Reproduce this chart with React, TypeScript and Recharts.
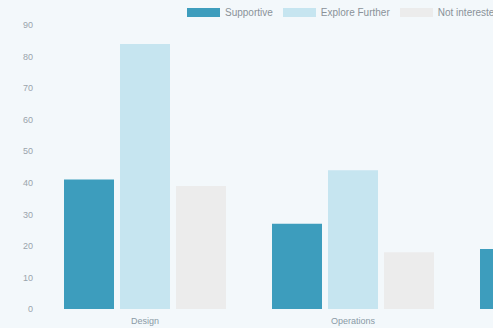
import React from 'react';
import { BarChart, Bar, XAxis, YAxis } from 'recharts';

const categories = ['Design', 'Operations', 'Marketing'];
const supportive = [41, 27, 19];
const exploreFurther = [84, 44, 31];
const notInterested = [39, 18, 12];
const yTicks = [0, 10, 20, 30, 40, 50, 60, 70, 80, 90];

const data = categories.map((name, i) => ({
    name,
    supportive: supportive[i],
    explore: exploreFurther[i],
    notInterested: notInterested[i],
}));

const legendItems = [
    { label: 'Supportive', color: '#3d9dbd' },
    { label: 'Explore Further', color: '#c6e5f0' },
    { label: 'Not interested', color: '#ececec' },
];

const font = 'Arial, "Liberation Sans", sans-serif';

const App: React.FC = () => {
    return (
        <div style={{ position: 'fixed', top: 0, left: 0, width: 493, height: 328, overflow: 'hidden', background: '#f3f8fb' }}>
            {/* legend sits above the plot, centred on the full (cropped) canvas */}
            <div style={{ position: 'absolute', top: 7, left: 187, display: 'flex', alignItems: 'center', fontFamily: font, fontSize: 10, color: '#8a9299', whiteSpace: 'nowrap' }}>
                {legendItems.map((item) => (
                    <div key={item.label} style={{ display: 'flex', alignItems: 'center', marginRight: 10 }}>
                        <span style={{ width: 33, height: 9, background: item.color, marginRight: 5, display: 'inline-block' }}></span>
                        {item.label}
                    </div>
                ))}
            </div>
            <BarChart
                width={692}
                height={328}
                data={data}
                margin={{ top: 25, right: 27, left: 0, bottom: 0 }}
                barSize={50}
                barGap={6}
            >
                <XAxis
                    dataKey="name"
                    axisLine={false}
                    tickLine={false}
                    height={19}
                    tickMargin={0}
                    tickSize={9}
                    tick={{ fill: '#8a9aa6', fontSize: 9, fontFamily: font }}
                />
                <YAxis
                    domain={[0, 90]}
                    ticks={yTicks}
                    width={41}
                    axisLine={false}
                    tickLine={false}
                    tick={{ fill: '#9aa4ac', fontSize: 9, fontFamily: font }}
                />
                <Bar dataKey="supportive" name="Supportive" fill="#3d9dbd" isAnimationActive={false} />
                <Bar dataKey="explore" name="Explore Further" fill="#c6e5f0" isAnimationActive={false} />
                <Bar dataKey="notInterested" name="Not interested" fill="#ececec" isAnimationActive={false} />
            </BarChart>
        </div>
    );
};

export default App;
